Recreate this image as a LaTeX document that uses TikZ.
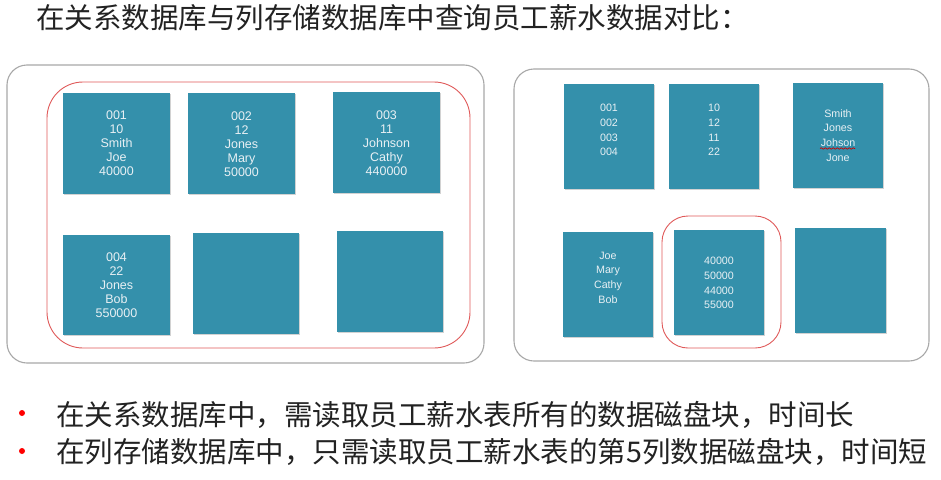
\documentclass[tikz,border=0pt]{standalone}
\usepackage{fontspec}
\setmainfont{Liberation Sans}
\newfontfamily\cjk{Noto Sans CJK SC}
\usetikzlibrary{shadows,decorations.pathmorphing}
\definecolor{teal1}{HTML}{3490AB}
\definecolor{blocktxt}{HTML}{E8F0F4}
\definecolor{redline}{HTML}{E05A5A}
\definecolor{grayline}{HTML}{A8A8A8}
\definecolor{darktxt}{HTML}{222222}
\tikzset{
  blockbox/.style={fill=teal1, draw=none, inner sep=0pt,
    drop shadow={opacity=0.35, shadow xshift=0.8pt, shadow yshift=-1.2pt}},
  ltxt/.style={text=blocktxt, align=center, inner sep=0pt,
    font=\fontsize{12.5}{14}\selectfont},
  rtxt/.style={text=blocktxt, align=center, inner sep=0pt,
    font=\fontsize{10.7}{14.7}\selectfont},
  outerbox/.style={draw=grayline, line width=1.1pt, rounded corners=20pt},
  redbox/.style={draw=redline, line width=0.9pt},
  cjktxt/.style={text=darktxt, inner sep=0pt, anchor=west,
    font=\cjk\fontsize{28.5}{31}\selectfont},
  bulletdot/.style={circle, fill=red, inner sep=0pt, minimum size=6pt}
}
\begin{document}
\begin{tikzpicture}[x=1pt,y=-1pt]
\useasboundingbox (0,0) rectangle (941,479);
\fill[white] (0,0) rectangle (941,479);

% title
\node[cjktxt] (title) at (36,18) {在关系数据库与列存储数据库中查询员工薪水数据对比：};

% left panel
\draw[outerbox] (7,65) rectangle (484,363);
\draw[redbox, rounded corners=36pt] (47,82) rectangle (470,348);

\node[blockbox, minimum width=107pt, minimum height=101pt] (L1) at (116.5,143.5) {};
\node[blockbox, minimum width=107pt, minimum height=101pt] (L2) at (241.5,143.5) {};
\node[blockbox, minimum width=107pt, minimum height=101pt] (L3) at (386.5,142.5) {};
\node[blockbox, minimum width=107pt, minimum height=100pt] (L4) at (116.5,285) {};
\node[blockbox, minimum width=106pt, minimum height=101pt] (L5) at (246,283.5) {};
\node[blockbox, minimum width=106pt, minimum height=101pt] (L6) at (390,281.5) {};

\node[ltxt] (L1t) at (116.5,143.5) {001\\10\\Smith\\Joe\\40000};
\node[ltxt] (L2t) at (241.5,144) {002\\12\\Jones\\Mary\\50000};
\node[ltxt] (L3t) at (386.5,143) {003\\11\\Johnson\\Cathy\\440000};
\node[ltxt] (L4t) at (116.5,285) {004\\22\\Jones\\Bob\\550000};

% right panel
\draw[outerbox] (514,69) rectangle (929,361);
\draw[redbox, rounded corners=26pt] (662,216) rectangle (781,348);

\node[blockbox, minimum width=90pt, minimum height=105pt] (R1) at (609,136.5) {};
\node[blockbox, minimum width=90pt, minimum height=105pt] (R2) at (714,136.5) {};
\node[blockbox, minimum width=90pt, minimum height=105pt] (R3) at (838,135.5) {};
\node[blockbox, minimum width=90pt, minimum height=105pt] (R4) at (608,284.5) {};
\node[blockbox, minimum width=90pt, minimum height=105pt] (R5) at (719,282.5) {};
\node[blockbox, minimum width=91pt, minimum height=105pt] (R6) at (840.5,280.5) {};

\node[rtxt] (R1t) at (609,130) {001\\002\\003\\004};
\node[rtxt] (R2t) at (714,130) {10\\12\\11\\22};
\node[rtxt] (R3t) at (838,135.5) {Smith\\Jones\\Johson\\Jone};
\node[rtxt] (R4t) at (608,277.5) {Joe\\Mary\\Cathy\\Bob};
\node[rtxt] (R5t) at (719,283) {40000\\50000\\44000\\55000};

\coordinate (wavyA) at (820,148.5);
\coordinate (wavyB) at (855,148.5);
\draw[red!80!black, line width=0.7pt, decorate,
  decoration={snake, amplitude=0.7pt, segment length=4pt}] (wavyA) -- (wavyB);

% bullets
\node[bulletdot] (b1) at (22,413) {};
\node[bulletdot] (b2) at (22,451) {};
\node[cjktxt] (t1) at (56,414.5) {在关系数据库中，需读取员工薪水表所有的数据磁盘块，时间长};
\node[cjktxt] (t2) at (56,452) {在列存储数据库中，只需读取员工薪水表的第5列数据磁盘块，时间短};
\end{tikzpicture}
\end{document}
